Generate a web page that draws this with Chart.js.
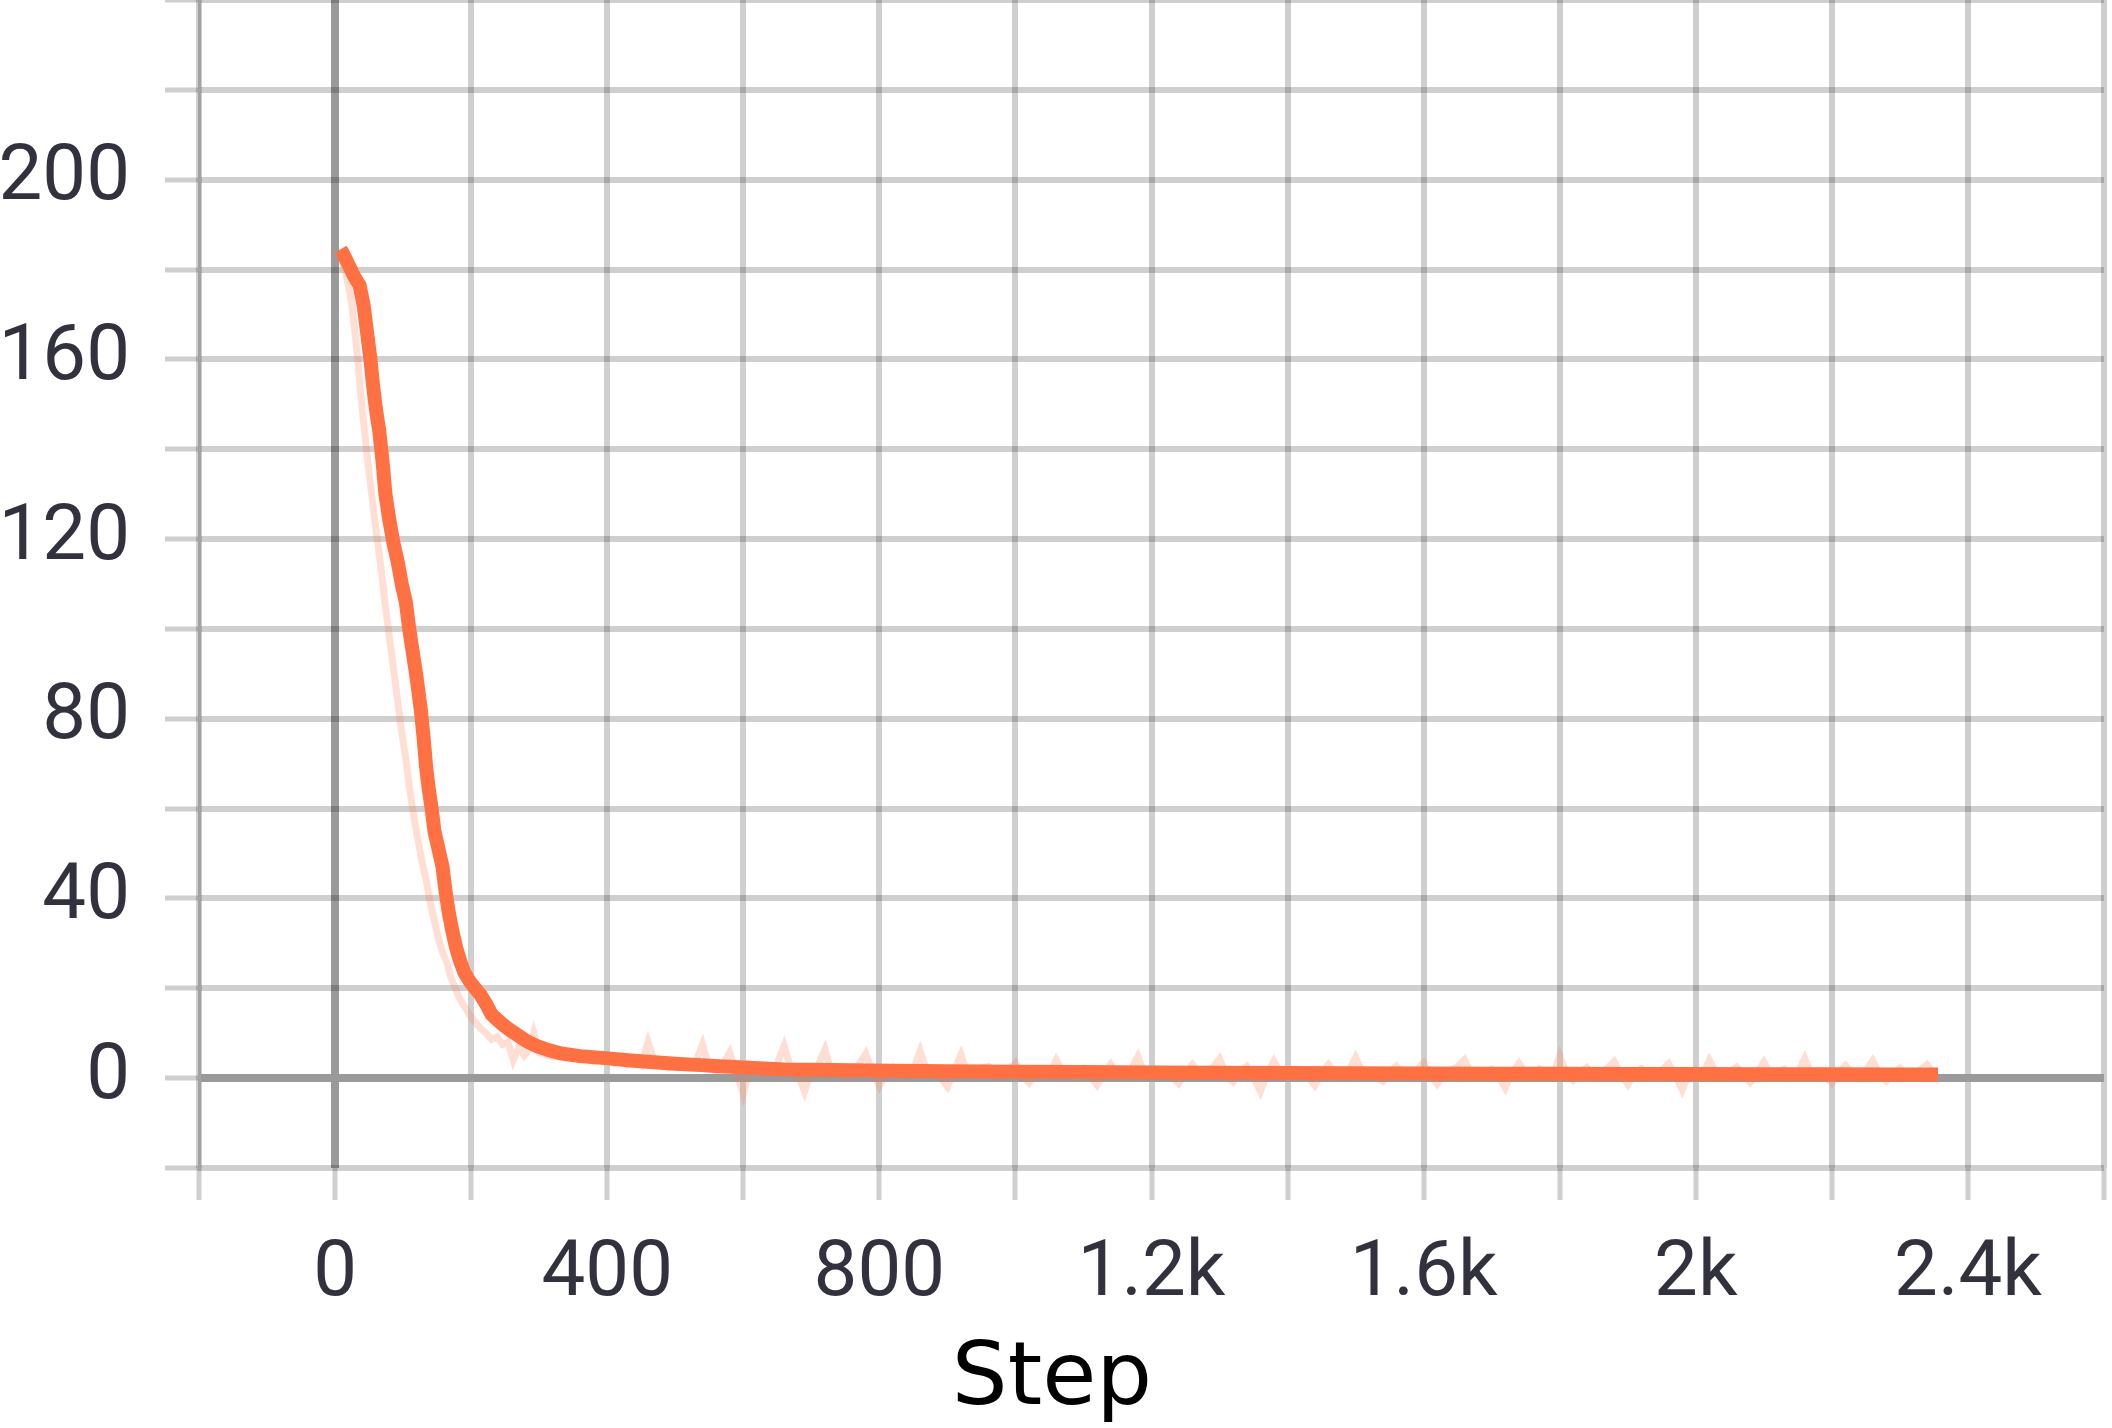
<!DOCTYPE html>
<html>
<head>
<meta charset="utf-8">
<script src="https://cdn.jsdelivr.net/npm/chart.js@4.4.1/dist/chart.umd.min.js"></script>
<style>
  html, body { margin: 0; padding: 0; background: #fff; }
  #wrap { width: 2112px; height: 1428px; position: relative; }
</style>
</head>
<body>
<div id="wrap"><canvas id="grafico"></canvas></div>
<script>
// Datos (curva suavizada y curva cruda)
const pasosSuave = [8, 12, 20, 28, 36, 42, 47, 52, 56, 60, 65, 70, 74, 80, 86, 92, 98, 104, 109, 114,
  120, 126, 130, 134, 138, 142, 146, 152, 158, 162, 167, 172, 178, 184, 190, 198, 206, 214, 222, 230,
  240, 250, 260, 270, 282, 297, 315, 332, 360, 401, 430, 464, 500, 538, 570, 601, 630, 660, 700, 758,
  820, 900, 1000, 1100, 1200, 1300, 1400, 1500, 1600, 1700, 1800, 1900, 2000, 2100, 2200, 2300, 2356];
const valoresSuave = [184.5, 183.5, 181, 178.5, 176.5, 172, 166, 160, 154, 149, 144, 137, 130, 124, 119, 115, 110, 106, 100, 95,
  89, 82, 76, 69, 64, 60, 55, 51, 47, 42, 37, 33, 29, 26, 23.5, 21.5, 20, 18.5, 16.5, 14.2,
  12.8, 11.5, 10.4, 9.4, 8.2, 7.1, 6.2, 5.5, 4.9, 4.4, 4.0, 3.6, 3.2, 2.9, 2.6, 2.4, 2.15, 1.95, 1.85, 1.75,
  1.65, 1.55, 1.45, 1.35, 1.28, 1.2, 1.15, 1.1, 1.05, 1.0, 0.97, 0.94, 0.9, 0.88, 0.85, 0.82, 0.8];

const pasosCrudo = [8, 16, 24, 32, 38, 44, 50, 56, 62, 68, 74, 80, 86, 92, 98, 104, 110, 116, 122, 128,
  134, 140, 146, 152, 158, 164, 170, 176, 182, 190, 198, 206, 214, 222, 230, 238, 246, 254, 262, 270,
  278, 286, 292, 300, 310, 320, 330, 340, 350, 360, 370, 380, 390, 400, 410, 420, 430, 440, 450, 460,
  470, 480, 490, 500, 510, 520, 530, 540, 550, 560, 570, 580, 590, 600, 610, 620, 630, 640, 650, 660,
  670, 680, 690, 700, 710, 720, 730, 740, 750, 760, 770, 780, 790,
  800, 810, 820, 830, 840, 850, 860, 870, 880, 890, 900, 910, 920, 930, 940, 950, 960, 970, 980, 990,
  1000, 1010, 1020, 1030, 1040, 1050, 1060, 1070, 1080, 1090, 1100, 1110, 1120, 1130, 1140, 1150, 1160, 1170, 1180, 1190,
  1200, 1210, 1220, 1230, 1240, 1250, 1260, 1270, 1280, 1290, 1300, 1310, 1320, 1330, 1340, 1350, 1360, 1370, 1380, 1390,
  1400, 1410, 1420, 1430, 1440, 1450, 1460, 1470, 1480, 1490, 1500, 1510, 1520, 1530, 1540, 1550, 1560, 1570, 1580, 1590,
  1600, 1610, 1620, 1630, 1640, 1650, 1660, 1670, 1680, 1690, 1700, 1710, 1720, 1730, 1740, 1750, 1760, 1770, 1780, 1790,
  1800, 1810, 1820, 1830, 1840, 1850, 1860, 1870, 1880, 1890, 1900, 1910, 1920, 1930, 1940, 1950, 1960, 1970, 1980, 1990,
  2000, 2010, 2020, 2030, 2040, 2050, 2060, 2070, 2080, 2090, 2100, 2110, 2120, 2130, 2140, 2150, 2160, 2170, 2180, 2190,
  2200, 2210, 2220, 2230, 2240, 2250, 2260, 2270, 2280, 2290, 2300, 2310, 2320, 2330, 2340, 2350];
const valoresCrudo = [183, 179, 173, 162, 152, 143, 135, 127, 120, 113, 105, 98, 91, 84, 77, 71, 64, 58, 53, 48,
  44, 39, 35, 31, 28, 26, 22.5, 20.5, 18, 16, 14, 12.5, 11, 10, 8.6, 9.2, 7.5, 8.0, 4.0, 6.8,
  5.0, 6.5, 10.0, 5.6, 5.2, 4.8, 5.0, 4.4, 4.9, 4.1, 4.5, 3.8, 4.2, 4.0, 3.3, 4.6, 3.1, 4.3, 3.0, 8.0,
  3.4, 3.2, 2.4, 3.9, 2.8, 2.5, 3.6, 7.5, 2.2, 1.6, 3.0, 5.7, 1.2, -3.5, 2.6, 2.8, 1.0, 1.4, 3.3, 7.2,
  2.0, 0.9, -3.0, 1.7, 2.9, 6.4, 1.1, 2.2, 0.4, 0.6, 3.1, 5.4, 1.5,
  -1.8, 1.2, 2.4, 0.8, 0.5, 1.9, 6.0, 1.4, 1.8, 0.2, -1.9, 1.6, 5.2, 0.9, 1.2, 2.3, 2.6, 0.4, 0.3, 1.7,
  3.4, 0.6, -1.0, 1.4, 2.1, 0.8, 4.0, 1.3, 0.6, 1.9, 2.2, 0.5, -1.5, 1.1, 3.1, 0.7, 1.0, 2.0, 4.8, 0.9,
  0.4, 1.5, 2.0, 0.3, -1.2, 1.2, 3.0, 0.8, 1.5, 2.4, 4.3, 0.6, -0.8, 1.3, 2.6, 0.2, -2.9, 1.0, 3.8, 1.2,
  0.9, 2.0, 1.9, 0.4, -1.6, 1.1, 3.0, 0.8, 0.2, 1.6, 4.6, 1.3, 1.0, 0.3, -0.7, 1.4, 2.7, 0.6, 0.5, 1.8,
  3.5, 0.7, -1.3, 1.0, 1.8, 2.6, 4.1, 0.9, 0.3, 1.5, 2.0, 0.4, -2.2, 1.2, 3.3, 1.1, 0.7, 2.1, 1.6, 0.5,
  4.9, 1.0, -0.5, 1.3, 2.4, 0.6, 0.9, 2.2, 3.7, 0.8, -1.4, 1.0, 2.1, 0.9, 0.4, 1.7, 3.2, 0.6, -2.6, 1.1,
  1.9, 0.7, 4.0, 1.2, 0.2, 1.4, 2.5, 0.8, -0.9, 1.0, 3.6, 0.9, 1.1, 2.0, 0.3, 1.2, 4.4, 0.7, 1.6, 0.4,
  -1.1, 1.3, 2.8, 0.9, 0.5, 1.6, 3.9, 1.0, -0.6, 1.2, 2.2, 0.6, 0.7, 1.9, 3.0, 1.0];

const tituloX = 'Step';

const colorLinea = '#ff7043';
const colorCrudo = 'rgba(255, 112, 67, 0.23)';
const colorRejilla = 'rgba(0, 0, 0, 0.19)';
const colorCero = '#9a9a9a';
const colorTexto = '#32323e';

function puntos(xs, ys) {
  return xs.map((x, i) => ({ x: x, y: ys[i] }));
}

function etiquetaX(v) {
  if (v < 0 || v > 2400 || v % 400 !== 0) return '';
  return v >= 1000 ? (v / 1000) + 'k' : String(v);
}

function etiquetaY(v) {
  if (v < 0 || v > 200 || v % 40 !== 0) return '';
  return String(v);
}

const ctx = document.getElementById('grafico').getContext('2d');
new Chart(ctx, {
  type: 'line',
  data: {
    datasets: [
      {
        label: 'suave',
        data: puntos(pasosSuave, valoresSuave),
        borderColor: colorLinea,
        borderWidth: 14,
        pointRadius: 0,
        tension: 0,
        order: 0
      },
      {
        label: 'crudo',
        data: puntos(pasosCrudo, valoresCrudo),
        borderColor: colorCrudo,
        borderWidth: 7,
        pointRadius: 0,
        tension: 0,
        order: 1
      }
    ]
  },
  options: {
    responsive: true,
    maintainAspectRatio: false,
    animation: false,
    layout: { padding: { top: 0, right: 8, left: 0, bottom: 0 } },
    plugins: {
      legend: { display: false },
      tooltip: { enabled: false },
      title: {
        display: true,
        position: 'bottom',
        text: tituloX,
        color: '#000',
        font: { family: 'DejaVu Sans', size: 88, weight: 'normal', lineHeight: 1 },
        padding: { top: 0, bottom: 3 }
      }
    },
    scales: {
      x: {
        type: 'linear',
        min: -200,
        max: 2600,
        afterFit: (s) => { s.height = 169; s.paddingLeft = 0; s.paddingRight = 0; },
        ticks: {
          stepSize: 200,
          autoSkip: false,
          maxRotation: 0,
          padding: 29,
          color: colorTexto,
          font: { family: 'Roboto', size: 78 },
          callback: etiquetaX
        },
        grid: {
          color: (c) => (c.tick && c.tick.value === 0 ? colorCero : colorRejilla),
          lineWidth: (c) => (c.tick && c.tick.value === 0 ? 8 : 6),
          tickColor: colorRejilla,
          tickWidth: 5,
          tickLength: 32
        },
        border: { display: false }
      },
      y: {
        type: 'linear',
        min: -20,
        max: 240,
        afterFit: (s) => { s.width = 199; s.paddingTop = 0; s.paddingBottom = 0; },
        ticks: {
          stepSize: 20,
          autoSkip: false,
          padding: 35,
          color: colorTexto,
          font: { family: 'Roboto', size: 78 },
          callback: etiquetaY
        },
        grid: {
          color: (c) => (c.tick && c.tick.value === 0 ? colorCero : colorRejilla),
          lineWidth: (c) => (c.tick && c.tick.value === 0 ? 8 : 6),
          tickColor: colorRejilla,
          tickWidth: 5,
          tickLength: 34
        },
        border: { display: true, color: 'rgba(0, 0, 0, 0.22)', width: 3 }
      }
    }
  }
});
</script>
</body>
</html>
